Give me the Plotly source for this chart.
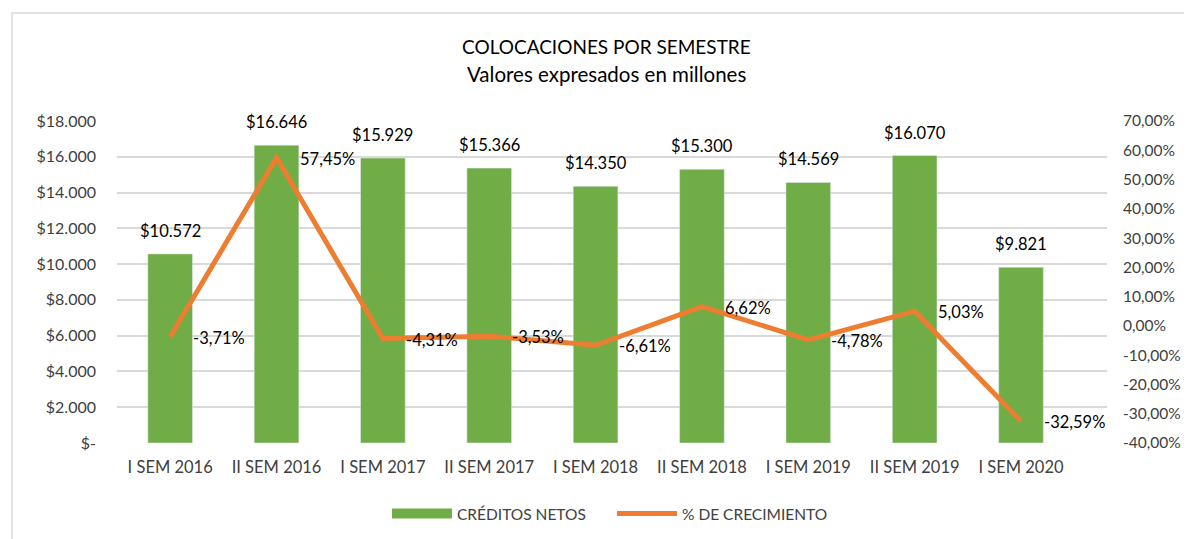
import plotly.graph_objects as go

categories = ["I SEM 2016", "II SEM 2016", "I SEM 2017", "II SEM 2017", "I SEM 2018",
              "II SEM 2018", "I SEM 2019", "II SEM 2019", "I SEM 2020"]
creditos = [10572, 16646, 15929, 15366, 14350, 15300, 14569, 16070, 9821]
crecimiento = [-3.71, 57.45, -4.31, -3.53, -6.61, 6.62, -4.78, 5.03, -32.59]

left_ticks = [0, 2000, 4000, 6000, 8000, 10000, 12000, 14000, 16000, 18000]
left_labels = ["$-", "$2.000", "$4.000", "$6.000", "$8.000", "$10.000", "$12.000",
               "$14.000", "$16.000", "$18.000"]
right_ticks = [-40, -30, -20, -10, 0, 10, 20, 30, 40, 50, 60, 70]
right_labels = ["-40,00%", "-30,00%", "-20,00%", "-10,00%", "0,00%", "10,00%", "20,00%",
                "30,00%", "40,00%", "50,00%", "60,00%", "70,00%"]

FONT = "Lato"
GREEN = "#70AD47"
ORANGE = "#ED7D31"
TXT = "#404040"

def fmt_money(v):
    return "$" + f"{v:,}".replace(",", ".")

def fmt_pct(v):
    return f"{v:.2f}".replace(".", ",") + "%"

fig = go.Figure()
fig.add_trace(go.Bar(x=categories, y=creditos, name="CRÉDITOS NETOS",
                     marker_color=GREEN, yaxis="y", showlegend=False))
fig.add_trace(go.Scatter(x=[None], y=[None], name="CRÉDITOS NETOS", mode="lines",
                         line=dict(color=GREEN, width=10), yaxis="y", showlegend=True))
fig.add_trace(go.Scatter(x=categories, y=crecimiento, name="% DE CRECIMIENTO",
                         mode="lines", line=dict(color=ORANGE, width=5), yaxis="y2"))

annotations = []
for c, v in zip(categories, creditos):
    annotations.append(dict(x=c, y=v, xref="x", yref="y", text=fmt_money(v),
                            showarrow=False, yanchor="bottom", yshift=11,
                            font=dict(family=FONT, size=16.5, color="#000000")))
for c, v in zip(categories, crecimiento):
    annotations.append(dict(x=c, y=v, xref="x", yref="y2", text=fmt_pct(v),
                            showarrow=False, xanchor="left", xshift=21, yshift=-1,
                            font=dict(family=FONT, size=16.5, color="#000000")))
annotations.append(dict(x=0.494, y=(443 - 47) / 322, xref="paper", yref="paper",
                        text="COLOCACIONES POR SEMESTRE", yanchor="middle",
                        showarrow=False, align="center",
                        font=dict(family=FONT, size=19, color="#000000")))
annotations.append(dict(x=0.494, y=(443 - 74) / 322, xref="paper", yref="paper",
                        text="Valores expresados en millones", yanchor="middle",
                        showarrow=False, align="center",
                        font=dict(family=FONT, size=20.5, color="#000000")))

fig.update_layout(
    width=1184, height=531,
    margin=dict(l=109, r=85, t=113, b=96, autoexpand=False),
    paper_bgcolor="white", plot_bgcolor="white",
    bargap=0.58,
    showlegend=True,
    legend=dict(orientation="h", x=0.5, xanchor="center", y=(443 - 514) / 322,
                yanchor="middle", entrywidth=150, entrywidthmode="pixels",
                font=dict(family=FONT, size=15.5, color=TXT), itemwidth=60,
                traceorder="normal"),
    xaxis=dict(showgrid=False, showline=False, ticks="", automargin=False,
               ticklabelstandoff=12,
               tickfont=dict(family=FONT, size=16.5, color=TXT)),
    yaxis=dict(range=[0, 18000], tickvals=left_ticks, ticktext=left_labels,
               showgrid=True, gridcolor="#D9D9D9", gridwidth=1.5, zeroline=False,
               tickfont=dict(family=FONT, size=16, color=TXT), ticks="",
               ticklabelstandoff=20, automargin=False),
    yaxis2=dict(range=[-40, 70], tickvals=right_ticks, ticktext=right_labels,
                overlaying="y", side="right", showgrid=False, zeroline=False,
                ticklabelstandoff=15,
                tickfont=dict(family=FONT, size=15.5, color=TXT), automargin=False),
    annotations=annotations,
    shapes=[dict(type="rect", xref="paper", yref="paper",
                 x0=(12 - 117) / 990, x1=(1210 - 117) / 990,
                 y0=(443 - 560) / 322, y1=(443 - 13) / 322,
                 line=dict(color="#D9D9D9", width=1.5), fillcolor="rgba(0,0,0,0)",
                 layer="below")],
    font=dict(family=FONT),
)

fig.write_html("out.html")
